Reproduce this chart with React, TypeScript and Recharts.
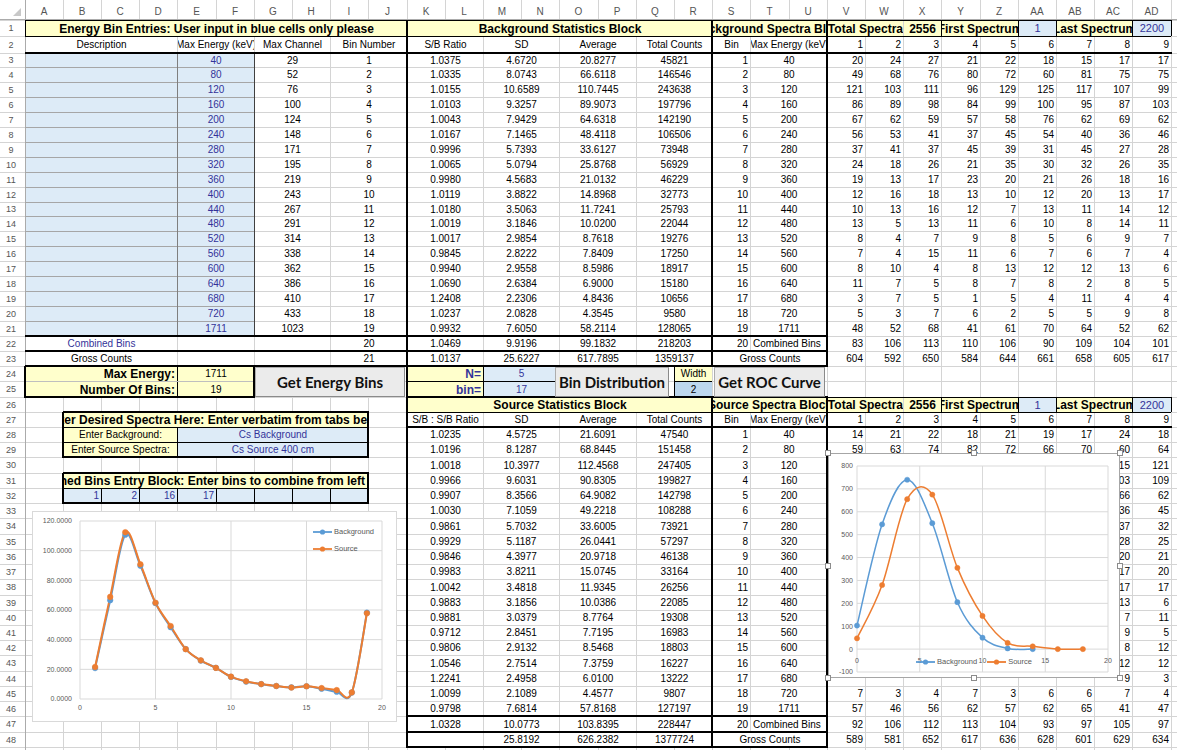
import React from 'react';
import { LineChart, Line, XAxis, YAxis, CartesianGrid, Legend } from 'recharts';

// ---------------- data ----------------
const colLetters = ['A','B','C','D','E','F','G','H','I','J','K','L','M','N','O','P','Q','R','S','T','U','V','W','X','Y','Z','AA','AB','AC','AD'];

const titleEnergy = 'Energy Bin Entries: User input in blue cells only please';
const titleBgStats = 'Background Statistics Block';
const titleBgSpec = 'Background Spectra Block';
const titleSrcStats = 'Source Statistics Block';
const titleSrcSpec = 'Source Spectra Block';
const titleDesired = 'Enter Desired Spectra Here: Enter verbatim from tabs below';
const titleCombine = 'Combined Bins Entry Block: Enter bins to combine from left to right';

const energyHeaders = ['Description', 'Max Energy (keV)', 'Max Channel', 'Bin Number'];
const statsHeadersBg = ['S/B Ratio', 'SD', 'Average', 'Total Counts'];
const statsHeadersSrc = ['S/B : S/B Ratio', 'SD', 'Average', 'Total Counts'];
const specHeaders = ['Bin', 'Max Energy (keV)'];
const spectraInfoLabels = ['Total Spectra', 'First Spectrum', 'Last Spectrum'];
const totalSpectra = 2556;
const firstSpectrum = 1;
const lastSpectrum = 2200;
const spectrumNumbers = [1, 2, 3, 4, 5, 6, 7, 8, 9];

const binNumbers = [1, 2, 3, 4, 5, 6, 7, 8, 9, 10, 11, 12, 13, 14, 15, 16, 17, 18, 19];
const summaryBinNumbers = [20, 21];
const summaryLabels = ['Combined Bins', 'Gross Counts'];
const maxEnergy = [40, 80, 120, 160, 200, 240, 280, 320, 360, 400, 440, 480, 520, 560, 600, 640, 680, 720, 1711];
const maxChannel = [29, 52, 76, 100, 124, 148, 171, 195, 219, 243, 267, 291, 314, 338, 362, 386, 410, 433, 1023];

const bgRatio = [1.0375, 1.0335, 1.0155, 1.0103, 1.0043, 1.0167, 0.9996, 1.0065, 0.998, 1.0119, 1.018, 1.0019, 1.0017, 0.9845, 0.994, 1.069, 1.2408, 1.0237, 0.9932];
const bgSD = [4.672, 8.0743, 10.6589, 9.3257, 7.9429, 7.1465, 5.7393, 5.0794, 4.5683, 3.8822, 3.5063, 3.1846, 2.9854, 2.8222, 2.9558, 2.6384, 2.2306, 2.0828, 7.605];
const bgAvg = [20.8277, 66.6118, 110.7445, 89.9073, 64.6318, 48.4118, 33.6127, 25.8768, 21.0132, 14.8968, 11.7241, 10.02, 8.7618, 7.8409, 8.5986, 6.9, 4.8436, 4.3545, 58.2114];
const bgTotal = [45821, 146546, 243638, 197796, 142190, 106506, 73948, 56929, 46229, 32773, 25793, 22044, 19276, 17250, 18917, 15180, 10656, 9580, 128065];
const bgCombinedStats = [1.0469, 9.9196, 99.1832, 218203];
const bgGrossStats = [1.0137, 25.6227, 617.7895, 1359137];

const srcRatio = [1.0235, 1.0196, 1.0018, 0.9966, 0.9907, 1.003, 0.9861, 0.9929, 0.9846, 0.9983, 1.0042, 0.9883, 0.9881, 0.9712, 0.9806, 1.0546, 1.2241, 1.0099, 0.9798];
const srcSD = [4.5725, 8.1287, 10.3977, 9.6031, 8.3566, 7.1059, 5.7032, 5.1187, 4.3977, 3.8211, 3.4818, 3.1856, 3.0379, 2.8451, 2.9132, 2.7514, 2.4958, 2.1089, 7.6814];
const srcAvg = [21.6091, 68.8445, 112.4568, 90.8305, 64.9082, 49.2218, 33.6005, 26.0441, 20.9718, 15.0745, 11.9345, 10.0386, 8.7764, 7.7195, 8.5468, 7.3759, 6.01, 4.4577, 57.8168];
const srcTotal = [47540, 151458, 247405, 199827, 142798, 108288, 73921, 57297, 46138, 33164, 26256, 22085, 19308, 16983, 18803, 16227, 13222, 9807, 127197];
const srcCombinedStats = [1.0328, 10.0773, 103.8395, 228447];
const srcGrossStats = [null, 25.8192, 626.2382, 1377724];

const bgSpectra = [
  [20, 24, 27, 21, 22, 18, 15, 17, 17],
  [49, 68, 76, 80, 72, 60, 81, 75, 75],
  [121, 103, 111, 96, 129, 125, 117, 107, 99],
  [86, 89, 98, 84, 99, 100, 95, 87, 103],
  [67, 62, 59, 57, 58, 76, 62, 69, 62],
  [56, 53, 41, 37, 45, 54, 40, 36, 46],
  [37, 41, 37, 45, 39, 31, 45, 27, 28],
  [24, 18, 26, 21, 35, 30, 32, 26, 35],
  [19, 13, 17, 23, 20, 21, 26, 18, 16],
  [12, 16, 18, 13, 10, 12, 20, 13, 17],
  [10, 13, 16, 12, 7, 13, 11, 14, 12],
  [13, 5, 13, 11, 6, 10, 8, 14, 11],
  [8, 4, 7, 9, 8, 5, 6, 9, 7],
  [7, 4, 15, 11, 6, 7, 6, 7, 4],
  [8, 10, 4, 8, 13, 12, 12, 13, 6],
  [11, 7, 5, 8, 7, 8, 2, 8, 5],
  [3, 7, 5, 1, 5, 4, 11, 4, 4],
  [5, 3, 7, 6, 2, 5, 5, 9, 8],
  [48, 52, 68, 41, 61, 70, 64, 52, 62],
];
const bgSpectraCombined = [83, 106, 113, 110, 106, 90, 109, 104, 101];
const bgSpectraGross = [604, 592, 650, 584, 644, 661, 658, 605, 617];

const srcSpectra = [
  [14, 21, 22, 18, 21, 19, 17, 24, 18],
  [59, 63, 74, 82, 72, 66, 70, 60, 64],
  [null, null, null, null, null, null, null, 115, 121],
  [null, null, null, null, null, null, null, 103, 109],
  [null, null, null, null, null, null, null, 66, 62],
  [null, null, null, null, null, null, null, 36, 45],
  [null, null, null, null, null, null, null, 37, 32],
  [null, null, null, null, null, null, null, 28, 25],
  [null, null, null, null, null, null, null, 20, 21],
  [null, null, null, null, null, null, null, 17, 20],
  [null, null, null, null, null, null, null, 17, 17],
  [null, null, null, null, null, null, null, 13, 6],
  [null, null, null, null, null, null, null, 7, 11],
  [null, null, null, null, null, null, null, 9, 5],
  [null, null, null, null, null, null, null, 8, 12],
  [null, null, null, null, null, null, null, 12, 12],
  [null, null, null, null, null, null, null, 9, 3],
  [7, 3, 4, 7, 3, 6, 6, 7, 4],
  [57, 46, 56, 62, 57, 62, 65, 41, 47],
];
const srcSpectraCombined = [92, 106, 112, 113, 104, 93, 97, 105, 97];
const srcSpectraGross = [589, 581, 652, 617, 636, 628, 601, 629, 634];

const summaryFieldLabels = ['Max Energy:', 'Number Of Bins:'];
const summaryFieldValues = [1711, 19];
const distLabels = ['N=', 'bin='];
const distValues = [5, 17];
const widthLabel = 'Width';
const widthValue = 2;
const buttonLabels = ['Get Energy Bins', 'Bin Distribution', 'Get ROC Curve'];
const spectraEntryLabels = ['Enter Background:', 'Enter Source Spectra:'];
const spectraEntryValues = ['Cs Background', 'Cs Source 400 cm'];
const combineBins = [1, 2, 16, 17];

// chart 1 : average counts per bin
const seriesNames = ['Background', 'Source'];
const leftXTicks = [0, 5, 10, 15, 20];
const leftYTicks = [0, 20, 40, 60, 80, 100, 120];
// chart 2 : bin distribution
const distX = [0, 2, 4, 6, 8, 10, 12, 14, 16, 18];
const distBg = [103, 545, 740, 550, 205, 50, 3, 0, null, null];
const distSrc = [47, 280, 655, 675, 355, 145, 27, 12, 0, 0];
const rightXTicks = [0, 5, 10, 15, 20];
const rightYTicks = [-100, 0, 100, 200, 300, 400, 500, 600, 700, 800];

// ---------------- layout helpers ----------------
const FONT = '"Liberation Sans", Arial, sans-serif';
const GRID = '#D4D4D4';
const YEL = '#FFFFCC';
const BLUE = '#DDEBF7';
const BLUE2 = '#BDD7EE';
const BTXT = '#333399';
const BG_COLOR = '#5B9BD5';
const SRC_COLOR = '#ED7D31';

const X = (c: number) => Math.round(24.5 + c * 38.2);
const Y = (r: number) =>
  Math.round(r <= 1 ? 20 : r === 2 ? 36.3 : r <= 22 ? 52.5 + (r - 3) * 14.9 : 335.6 + (r - 22) * 15.23);

type CellProps = {
  c1: number; c2?: number; r1: number; r2?: number;
  t?: string | number | null; al?: 'l' | 'c' | 'r'; b?: boolean; fs?: number; col?: string; bg?: string; pad?: number;
};

function Cell({ c1, c2 = c1, r1, r2 = r1, t, al = 'c', b, fs, col = '#000', bg, pad = 2 }: CellProps) {
  const x = X(c1), y = Y(r1), w = X(c2 + 1) - x, h = Y(r2 + 1) - y;
  const merged = c2 > c1 || r2 > r1;
  return (
    <div
      style={{
        position: 'absolute', left: x + 1, top: y + 1, width: w - 1, height: h - 1,
        background: bg ?? (merged ? '#fff' : 'transparent'), overflow: 'hidden', display: 'flex', alignItems: 'center',
        justifyContent: al === 'l' ? 'flex-start' : al === 'r' ? 'flex-end' : 'center',
        padding: al === 'c' ? 0 : `0 ${pad}px`, boxSizing: 'border-box', whiteSpace: 'nowrap',
        fontFamily: FONT, fontSize: fs ?? (b ? 12 : 10), fontWeight: b ? 700 : 400, color: col, lineHeight: 1,
      }}
    >
      {t !== undefined && t !== null && t !== '' ? <span style={{ flexShrink: 0 }}>{t}</span> : null}
    </div>
  );
}

const fmt = (v: number | null, k: number) => (v == null ? '' : k < 3 ? v.toFixed(4) : String(v));

// excel-like smoothed line (Catmull-Rom as cubic Bezier)
function excelSmooth(context: any) {
  let pts: number[][] = [];
  return {
    areaStart() {},
    areaEnd() {},
    lineStart() { pts = []; },
    point(x: number, y: number) { pts.push([+x, +y]); },
    lineEnd() {
      const n = pts.length;
      if (!n) return;
      context.moveTo(pts[0][0], pts[0][1]);
      for (let i = 0; i < n - 1; i++) {
        const p0 = pts[i - 1] || pts[i];
        const p1 = pts[i];
        const p2 = pts[i + 1];
        const p3 = pts[i + 2] || p2;
        context.bezierCurveTo(
          p1[0] + (p2[0] - p0[0]) / 6, p1[1] + (p2[1] - p0[1]) / 6,
          p2[0] - (p3[0] - p1[0]) / 6, p2[1] - (p3[1] - p1[1]) / 6,
          p2[0], p2[1],
        );
      }
    },
  };
}

const LegendSample = ({ color }: { color: string }) => (
  <svg width={19} height={8} style={{ display: 'block' }}>
    <line x1={0} y1={4} x2={19} y2={4} stroke={color} strokeWidth={1.8} />
    <circle cx={9.5} cy={4} r={2.6} fill={color} />
  </svg>
);

const LeftLegend = (props: any) => (
  <div style={{ fontFamily: FONT, fontSize: 7.5, color: '#595959' }}>
    {(props.payload || []).map((p: any) => (
      <div key={p.value} style={{ display: 'flex', alignItems: 'center', height: 17, gap: 2 }}>
        <LegendSample color={p.color} />
        <span>{p.value}</span>
      </div>
    ))}
  </div>
);

const RightLegend = (props: any) => (
  <div style={{ fontFamily: FONT, fontSize: 7.5, color: '#595959', display: 'flex', justifyContent: 'center', gap: 10 }}>
    {(props.payload || []).map((p: any) => (
      <div key={p.value} style={{ display: 'flex', alignItems: 'center', gap: 2 }}>
        <LegendSample color={p.color} />
        <span>{p.value}</span>
      </div>
    ))}
  </div>
);

const RightXTick = (props: any) => {
  const { x, y, payload } = props;
  return (
    <text x={x} y={y - 9} textAnchor="middle" fontSize={7} fill="#595959" fontFamily={FONT}>
      {payload.value}
    </text>
  );
};

export default function App() {
  const cells: React.ReactNode[] = [];
  const add = (p: CellProps) => cells.push(<Cell key={'c' + cells.length} {...p} />);
  const lines: React.ReactNode[] = [];
  const H = (x1: number, x2: number, y: number, w = 1, c = '#000') =>
    lines.push(<div key={'l' + lines.length} style={{ position: 'absolute', left: x1, top: y - Math.floor(w / 2), width: x2 - x1 + (w > 1 ? 1 : 0), height: w, background: c }} />);
  const V = (x: number, y1: number, y2: number, w = 1, c = '#000') =>
    lines.push(<div key={'l' + lines.length} style={{ position: 'absolute', left: x - Math.floor(w / 2), top: y1, width: w, height: y2 - y1 + (w > 1 ? 1 : 0), background: c }} />);

  const grid: React.ReactNode[] = [];
  for (let c = 0; c <= 30; c++) {
    grid.push(<div key={'gv' + c} style={{ position: 'absolute', left: X(c), top: 0, width: 1, height: 750, background: GRID }} />);
  }
  for (let r = 1; r <= 50; r++) {
    grid.push(<div key={'gh' + r} style={{ position: 'absolute', left: 0, top: Y(r), width: 1177, height: 1, background: GRID }} />);
  }
  const headers: React.ReactNode[] = [];
  colLetters.forEach((l, c) => {
    headers.push(
      <div key={'hc' + c} style={{ position: 'absolute', left: X(c), top: 2, width: X(c + 1) - X(c), height: 18, display: 'flex', alignItems: 'center', justifyContent: 'center', fontFamily: FONT, fontSize: 10, color: '#555' }}>{l}</div>,
    );
  });
  for (let r = 1; r <= 48; r++) {
    headers.push(
      <div key={'hr' + r} style={{ position: 'absolute', left: 0, top: Y(r), width: 22, height: Y(r + 1) - Y(r), display: 'flex', alignItems: 'center', justifyContent: 'center', fontFamily: FONT, fontSize: 9, color: '#555' }}>{r}</div>,
    );
  }

  // ---- row 1 / row 26 title bars ----
  add({ c1: 0, c2: 9, r1: 1, t: titleEnergy, b: true, bg: YEL });
  [[1, titleBgStats, titleBgSpec], [26, titleSrcStats, titleSrcSpec]].forEach(([r, a, s]) => {
    const row = r as number;
    add({ c1: 10, c2: 17, r1: row, t: a as string, b: true, bg: YEL });
    add({ c1: 18, c2: 20, r1: row, t: s as string, b: true, bg: YEL });
    add({ c1: 21, c2: 22, r1: row, t: spectraInfoLabels[0], b: true, bg: YEL, al: 'r', pad: 0 });
    add({ c1: 23, r1: row, t: totalSpectra, b: true, bg: YEL });
    add({ c1: 24, c2: 25, r1: row, t: spectraInfoLabels[1], b: true, bg: YEL });
    add({ c1: 26, r1: row, t: firstSpectrum, bg: BLUE, col: BTXT, fs: 11 });
    add({ c1: 27, c2: 28, r1: row, t: spectraInfoLabels[2], b: true, bg: YEL });
    add({ c1: 29, r1: row, t: lastSpectrum, bg: BLUE, col: BTXT, fs: 11 });
  });

  // ---- row 2 headers ----
  add({ c1: 0, c2: 3, r1: 2, t: energyHeaders[0] });
  add({ c1: 4, c2: 5, r1: 2, t: energyHeaders[1] });
  add({ c1: 6, c2: 7, r1: 2, t: energyHeaders[2] });
  add({ c1: 8, c2: 9, r1: 2, t: energyHeaders[3] });
  const statHead = (r: number, hs: string[]) => {
    hs.forEach((h, k) => add({ c1: 10 + 2 * k, c2: 11 + 2 * k, r1: r, t: h }));
    add({ c1: 18, r1: r, t: specHeaders[0] });
    add({ c1: 19, c2: 20, r1: r, t: specHeaders[1] });
    spectrumNumbers.forEach((n, j) => add({ c1: 21 + j, r1: r, t: n, al: 'r' }));
  };
  statHead(2, statsHeadersBg);
  statHead(27, statsHeadersSrc);

  // ---- energy bin rows ----
  binNumbers.forEach((b, i) => {
    const r = 3 + i;
    add({ c1: 0, c2: 3, r1: r, bg: BLUE });
    add({ c1: 4, c2: 5, r1: r, t: maxEnergy[i], bg: BLUE, col: BTXT });
    add({ c1: 6, c2: 7, r1: r, t: maxChannel[i] });
    add({ c1: 8, c2: 9, r1: r, t: b });
  });
  summaryBinNumbers.forEach((n, k) => {
    const r = 22 + k;
    add({ c1: 0, c2: 3, r1: r, t: summaryLabels[k], col: k === 0 ? BTXT : '#000' });
    add({ c1: 4, c2: 5, r1: r });
    add({ c1: 6, c2: 7, r1: r });
    add({ c1: 8, c2: 9, r1: r, t: n });
  });

  // ---- statistics + spectra blocks ----
  const statsRow = (r: number, vals: (number | null)[]) =>
    vals.forEach((v, k) => add({ c1: 10 + 2 * k, c2: 11 + 2 * k, r1: r, t: fmt(v, k) }));
  const specRow = (r: number, vals: (number | null)[]) =>
    vals.forEach((v, j) => add({ c1: 21 + j, r1: r, t: v, al: 'r' }));
  const block = (r0: number, ratio: number[], sd: number[], avg: number[], tot: number[], comb: (number | null)[], gross: (number | null)[], spec: (number | null)[][], specC: number[], specG: number[]) => {
    binNumbers.forEach((b, i) => {
      const r = r0 + i;
      statsRow(r, [ratio[i], sd[i], avg[i], tot[i]]);
      add({ c1: 18, r1: r, t: b, al: 'r' });
      add({ c1: 19, c2: 20, r1: r, t: maxEnergy[i] });
      specRow(r, spec[i]);
    });
    statsRow(r0 + 19, comb);
    add({ c1: 18, r1: r0 + 19, t: summaryBinNumbers[0], al: 'r' });
    add({ c1: 19, c2: 20, r1: r0 + 19, t: summaryLabels[0], al: 'l' });
    specRow(r0 + 19, specC);
    statsRow(r0 + 20, gross);
    add({ c1: 18, c2: 20, r1: r0 + 20, t: summaryLabels[1] });
    specRow(r0 + 20, specG);
  };
  block(3, bgRatio, bgSD, bgAvg, bgTotal, bgCombinedStats, bgGrossStats, bgSpectra, bgSpectraCombined, bgSpectraGross);
  block(28, srcRatio, srcSD, srcAvg, srcTotal, srcCombinedStats, srcGrossStats, srcSpectra, srcSpectraCombined, srcSpectraGross);

  // ---- rows 24-25 controls ----
  summaryFieldLabels.forEach((l, k) => {
    add({ c1: 0, c2: 3, r1: 24 + k, t: l, b: true, al: 'r', bg: YEL });
    add({ c1: 4, c2: 5, r1: 24 + k, t: summaryFieldValues[k], bg: YEL });
    add({ c1: 10, c2: 11, r1: 24 + k, t: distLabels[k], b: true, al: 'r', bg: YEL, col: BTXT });
    add({ c1: 12, c2: 13, r1: 24 + k, t: distValues[k], bg: BLUE, col: BTXT });
  });
  add({ c1: 17, r1: 24, t: widthLabel, bg: YEL });
  add({ c1: 17, r1: 25, t: widthValue, bg: BLUE2 });

  // ---- spectra entry + combine blocks ----
  add({ c1: 1, c2: 8, r1: 27, t: titleDesired, b: true, bg: YEL });
  spectraEntryLabels.forEach((l, k) => {
    add({ c1: 1, c2: 3, r1: 28 + k, t: l, bg: YEL });
    add({ c1: 4, c2: 8, r1: 28 + k, t: spectraEntryValues[k], bg: BLUE, col: BTXT });
  });
  add({ c1: 1, c2: 8, r1: 31, t: titleCombine, b: true, bg: YEL });
  for (let j = 0; j < 8; j++) add({ c1: 1 + j, r1: 32, t: combineBins[j] ?? '', al: 'r', bg: BLUE, col: BTXT });

  // ---- borders ----
  for (let r = 4; r <= 21; r++) H(X(0), X(6), Y(r), 1, '#A6A6A6');
  V(X(4), Y(3), Y(22), 1, '#7F7F7F');
  V(X(6), Y(3), Y(22), 1, '#404040');
  H(X(0), X(30), Y(1));
  H(X(0), X(30), Y(2));
  H(X(21), X(30), Y(26));
  H(X(10), X(30), Y(27));
  [0, 24, 26, 27, 29, 30].forEach((c) => V(X(c), Y(1), Y(2)));
  [24, 26, 27, 29, 30].forEach((c) => V(X(c), Y(26), Y(27)));
  H(X(1), X(9), Y(28));
  H(X(1), X(9), Y(29));
  V(X(4), Y(28), Y(30));
  H(X(1), X(9), Y(32));
  for (let c = 2; c <= 8; c++) V(X(c), Y(32), Y(33));
  V(X(4), Y(24), Y(26));
  H(X(0), X(6), Y(25), 1, '#BFBFBF');
  V(X(12), Y(24), Y(26));
  H(X(10), X(14), Y(25));
  V(X(17), Y(24), Y(26));
  H(X(17), X(18), Y(25));
  H(X(0), X(30), Y(3), 2);
  [22, 23, 24].forEach((r) => H(X(0), X(21), Y(r), 2));
  H(X(0), X(6), Y(26), 2);
  H(X(10), X(21), Y(26), 2);
  H(X(10), X(30), Y(28), 2);
  [47, 48, 49].forEach((r) => H(X(10), X(21), Y(r), 2));
  V(X(10), Y(1), Y(49), 2);
  V(X(18), Y(1), Y(24), 2);
  V(X(18), Y(26), Y(49), 2);
  V(X(21), Y(1), Y(24), 2);
  V(X(21), Y(26), Y(49), 2);
  V(X(0), Y(24), Y(26), 2);
  V(X(6), Y(24), Y(26), 2);
  [[27, 30], [31, 33]].forEach(([a, z]) => {
    H(X(1), X(9), Y(a), 2);
    H(X(1), X(9), Y(z), 2);
    V(X(1), Y(a), Y(z), 2);
    V(X(9), Y(a), Y(z), 2);
  });

  // ---- buttons ----
  const btnBoxes = [
    [X(6) + 1, X(10) - 2],
    [X(14) - 4, X(17) - 5],
    [X(18) + 2, X(21) - 2],
  ];
  const buttons = buttonLabels.map((l, k) => (
    <div key={'b' + k} style={{ position: 'absolute', left: btnBoxes[k][0], top: Y(24) + 1, width: btnBoxes[k][1] - btnBoxes[k][0], height: Y(26) - Y(24) - 1, background: '#EBEBEB', border: '1px solid #ADADAD', borderRightColor: '#8A8A8A', borderBottomColor: '#8A8A8A', boxSizing: 'border-box', display: 'flex', alignItems: 'center', justifyContent: 'center', fontFamily: 'Lato, "Open Sans", sans-serif', fontWeight: 700, fontSize: 15, color: '#111', whiteSpace: 'nowrap' }}>{l}</div>
  ));

  // ---- chart data ----
  const leftData = binNumbers.map((b, i) => ({ bin: b, bg: bgAvg[i], src: srcAvg[i] }));
  const rightData = distX.map((x, i) => ({ x, bg: distBg[i], src: distSrc[i] }));
  const axisTick = { fontSize: 7, fill: '#595959', fontFamily: FONT };

  const handles = [[0, 0], [0.5, 0], [1, 0], [0, 0.5], [1, 0.5], [0, 1], [0.5, 1], [1, 1]];

  return (
    <div style={{ position: 'absolute', left: 0, top: 0, width: 1177, height: 750, overflow: 'hidden', background: '#fff' }}>
      {grid}
      <div style={{ position: 'absolute', left: 0, top: 19, width: 1177, height: 1, background: '#ABABAB' }} />
      <div style={{ position: 'absolute', left: X(0), top: 0, width: 1, height: 750, background: '#ABABAB' }} />
      <svg style={{ position: 'absolute', left: 12, top: 7 }} width={10} height={10}>
        <polygon points="9,1 9,9 1,9" fill="#C8C8C8" />
      </svg>
      {headers}
      {cells}
      {lines}
      {buttons}

      {/* left chart */}
      <div style={{ position: 'absolute', left: 32, top: 511, width: 365, height: 211, background: '#fff', outline: '1px solid #D9D9D9', outlineOffset: -1 }}>
        <LineChart width={365} height={211} data={leftData} margin={{ top: 10, right: 15, bottom: 0, left: 0 }}>
          <CartesianGrid stroke="#D9D9D9" />
          <XAxis type="number" dataKey="bin" domain={[0, 20]} ticks={leftXTicks} interval={0} axisLine={false} tickLine={false} tickSize={0} tickMargin={6} height={23} tick={axisTick} />
          <YAxis type="number" domain={[0, 120]} ticks={leftYTicks} interval={0} width={48} axisLine={false} tickLine={false} tickSize={0} tickMargin={8} tick={axisTick} tickFormatter={(v: number) => v.toFixed(4)} />
          <Legend layout="vertical" align="center" verticalAlign="middle" content={LeftLegend} wrapperStyle={{ top: 12, left: 281, width: 80, height: 34 }} />
          <Line type={excelSmooth as any} dataKey="bg" name={seriesNames[0]} stroke={BG_COLOR} strokeWidth={2} dot={{ r: 2.8, fill: BG_COLOR, stroke: BG_COLOR, strokeWidth: 0.5 }} isAnimationActive={false} />
          <Line type={excelSmooth as any} dataKey="src" name={seriesNames[1]} stroke={SRC_COLOR} strokeWidth={2} dot={{ r: 2.8, fill: SRC_COLOR, stroke: SRC_COLOR, strokeWidth: 0.5 }} isAnimationActive={false} />
        </LineChart>
      </div>

      {/* right chart */}
      <div style={{ position: 'absolute', left: 828, top: 453, width: 292, height: 225, background: '#fff', outline: '1px solid #A6A6A6', outlineOffset: -1 }}>
        <LineChart width={292} height={225} data={rightData} margin={{ top: 13, right: 12, bottom: 5, left: 0 }}>
          <CartesianGrid stroke="#D9D9D9" />
          <XAxis type="number" dataKey="x" domain={[0, 20]} ticks={rightXTicks} interval={0} axisLine={false} tickLine={false} tickSize={0} tickMargin={0} height={1} tick={<RightXTick />} />
          <YAxis type="number" domain={[-100, 800]} ticks={rightYTicks} interval={0} width={29} axisLine={false} tickLine={false} tickSize={0} tickMargin={4} tick={axisTick} />
          <Legend layout="horizontal" align="center" verticalAlign="middle" content={RightLegend} wrapperStyle={{ top: 204, left: 0, width: 292, height: 12 }} />
          <Line type={excelSmooth as any} dataKey="bg" name={seriesNames[0]} stroke={BG_COLOR} strokeWidth={1.5} dot={{ r: 2.6, fill: BG_COLOR, stroke: BG_COLOR, strokeWidth: 0.5 }} isAnimationActive={false} />
          <Line type={excelSmooth as any} dataKey="src" name={seriesNames[1]} stroke={SRC_COLOR} strokeWidth={1.5} dot={{ r: 2.6, fill: SRC_COLOR, stroke: SRC_COLOR, strokeWidth: 0.5 }} isAnimationActive={false} />
        </LineChart>
        {handles.map(([hx, hy], k) => (
          <div key={'h' + k} style={{ position: 'absolute', left: hx * 292 - 3, top: hy * 225 - 3, width: 6, height: 6, background: '#fff', border: '1px solid #8C8C8C', boxSizing: 'border-box' }} />
        ))}
      </div>
    </div>
  );
}
